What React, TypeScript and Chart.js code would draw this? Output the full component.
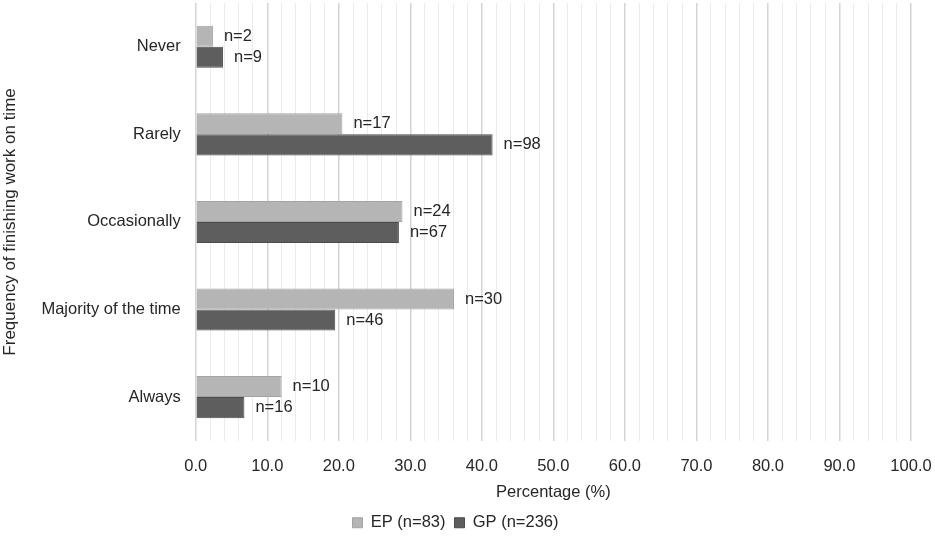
import { useEffect, useRef } from "react";
import { Chart, registerables } from "chart.js";

Chart.register(...registerables);

const categories = ["Never", "Rarely", "Occasionally", "Majority of the time", "Always"];
const epCounts = [2, 17, 24, 30, 10];
const gpCounts = [9, 98, 67, 46, 16];
const epPercent = [2.4, 20.5, 28.9, 36.1, 12.0];
const gpPercent = [3.8, 41.5, 28.4, 19.5, 6.8];
const seriesLabels = ["EP (n=83)", "GP (n=236)"];

const FONT = "'Liberation Sans', Arial, sans-serif";
const SIZE = 16.5;
const TEXT = "#262626";

// draws the "n=.." text just past the end of each bar
const countLabels = {
  id: "countLabels",
  afterDatasetsDraw(chart: Chart) {
    const ctx = chart.ctx;
    const counts = [epCounts, gpCounts];
    ctx.save();
    ctx.font = `${SIZE}px ${FONT}`;
    ctx.fillStyle = TEXT;
    ctx.textAlign = "left";
    ctx.textBaseline = "middle";
    chart.data.datasets.forEach((_, di) => {
      const meta = chart.getDatasetMeta(di);
      meta.data.forEach((bar: any, i) => {
        ctx.fillText(`n=${counts[di][i]}`, bar.x + 11, bar.y);
      });
    });
    ctx.restore();
  },
};

export default function App() {
  const canvasRef = useRef<HTMLCanvasElement | null>(null);
  const chartRef = useRef<Chart | null>(null);

  useEffect(() => {
    if (!canvasRef.current) return;
    if (chartRef.current) chartRef.current.destroy();

    chartRef.current = new Chart(canvasRef.current, {
      type: "bar",
      data: {
        labels: categories,
        datasets: [
          {
            label: seriesLabels[0],
            data: epPercent,
            backgroundColor: "#b5b5b5",
            borderColor: "#a3a3a3",
            borderWidth: 1,
            categoryPercentage: 0.48,
            barPercentage: 1,
          },
          {
            label: seriesLabels[1],
            data: gpPercent,
            backgroundColor: "#5e5e5e",
            borderColor: "#4b4b4b",
            borderWidth: 1,
            categoryPercentage: 0.48,
            barPercentage: 1,
          },
        ],
      },
      options: {
        indexAxis: "y",
        animation: false,
        responsive: true,
        maintainAspectRatio: false,
        layout: { padding: { top: 3, right: 24, left: 0, bottom: 0 } },
        plugins: {
          legend: {
            position: "bottom",
            labels: {
              boxWidth: 10,
              boxHeight: 10,
              color: TEXT,
              font: { family: FONT, size: SIZE },
              padding: 9,
            },
          },
          tooltip: { enabled: false },
        },
        scales: {
          x: {
            min: 0,
            max: 100,
            border: { display: false },
            grid: {
              drawTicks: false,
              color: (c: any) => (c.tick && c.tick.value % 10 === 0 ? "#d4d4d4" : "#ebebeb"),
              lineWidth: (c: any) => (c.tick && c.tick.value % 10 === 0 ? 1.5 : 1),
            },
            ticks: {
              stepSize: 2,
              autoSkip: false,
              maxRotation: 0,
              padding: 16,
              color: TEXT,
              font: { family: FONT, size: SIZE },
              callback: (v: any) => (Number(v) % 10 === 0 ? Number(v).toFixed(1) : ""),
            },
            title: {
              display: true,
              text: "Percentage (%)",
              color: TEXT,
              font: { family: FONT, size: SIZE },
              padding: { top: 6, bottom: 3 },
            },
            afterFit: (scale: any) => {
              // tighten the gap between tick labels and the axis title
              scale.height -= 16;
              scale.paddingLeft = 0;
              scale.paddingRight = 0;
            },
          },
          y: {
            border: { display: false },
            grid: { display: false, drawTicks: false },
            ticks: {
              padding: 15,
              color: TEXT,
              font: { family: FONT, size: SIZE },
            },
            title: {
              display: true,
              text: "Frequency of finishing work on time",
              color: TEXT,
              font: { family: FONT, size: 17 },
              padding: { top: 0, bottom: 6 },
            },
            afterFit: (scale: any) => {
              // keep the plot running to the top edge
              scale.paddingTop = 0;
              scale.paddingBottom = 0;
            },
          },
        },
      },
      plugins: [countLabels],
    });

    return () => {
      if (chartRef.current) {
        chartRef.current.destroy();
        chartRef.current = null;
      }
    };
  }, []);

  return (
    <div style={{ position: "fixed", left: 0, top: 0, width: 935, height: 541, background: "#fff" }}>
      <canvas ref={canvasRef} />
    </div>
  );
}
